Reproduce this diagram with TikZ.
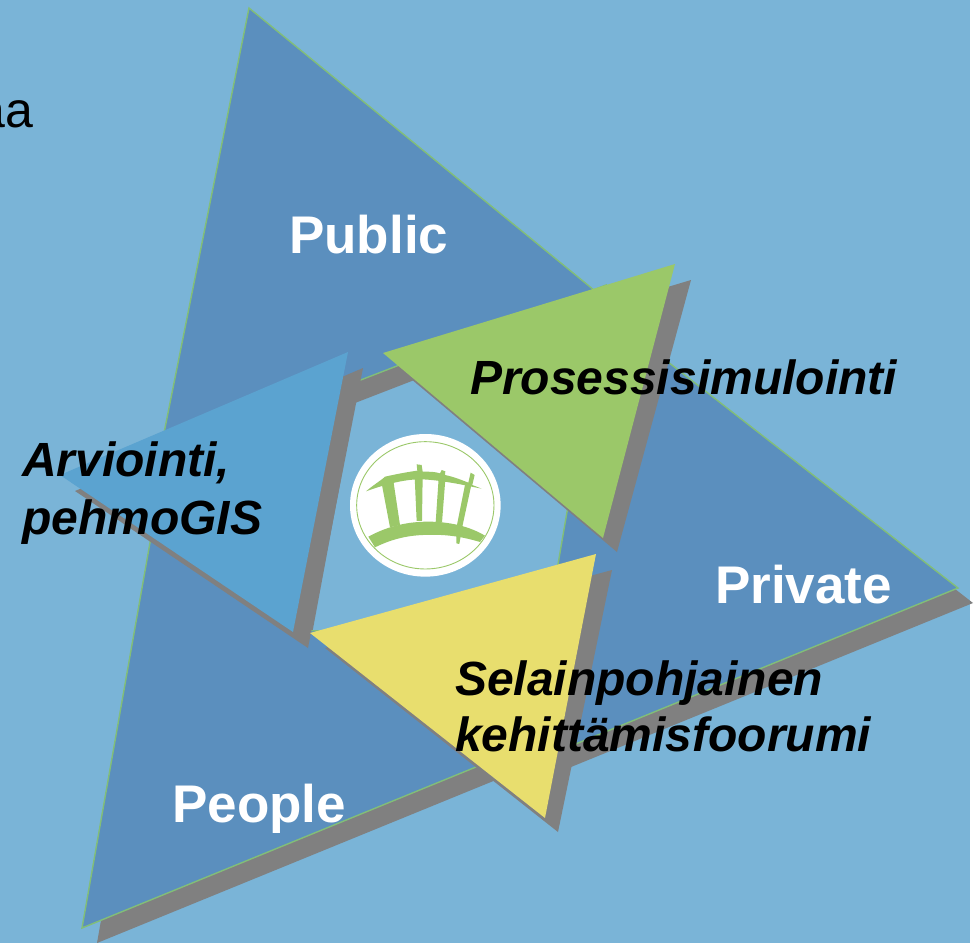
\documentclass[tikz,border=0pt]{standalone}
\usepackage{fontspec}
\setmainfont{Liberation Sans}
\definecolor{bgblue}{RGB}{122,180,215}
\definecolor{bigblue}{RGB}{91,143,190}
\definecolor{midblue}{RGB}{91,163,208}
\definecolor{leaf}{RGB}{155,200,105}
\definecolor{edgegreen}{RGB}{130,190,120}
\definecolor{sun}{RGB}{232,222,110}
\definecolor{dropgrey}{RGB}{128,128,128}
\tikzset{
  bigtext/.style={anchor=base west,inner sep=0pt,text=white,font=\fontsize{53bp}{56bp}\selectfont\bfseries},
  itext/.style={anchor=base west,inner sep=0pt,text=black,font=\fontsize{48bp}{54bp}\selectfont\bfseries\itshape},
  logoink/.style={fill=leaf,draw=none}
}
\newcommand{\bigshape}{(249,8) -- (600,295) -- (600,309) -- (958,588) -- (520,766.7) -- (520,749) -- (82,928) -- (154,520) -- (154.6,480) -- cycle
  (340,388) -- (606,285) -- (545,640) -- (295,630) -- cycle}
\begin{document}
\begin{tikzpicture}[x=1bp,y=-1bp]
\useasboundingbox (0,0) rectangle (979,943);
\fill[white] (0,0) rectangle (979,943);
\fill[bgblue] (0,0) rectangle (970,943);
\node[anchor=base west,inner sep=0pt,font=\fontsize{50bp}{54bp}\selectfont,text=black] (aa) at (-22.6,127) {aa};
% big triangle with hole
\fill[dropgrey,even odd rule,shift={(15,15)}] \bigshape;
\fill[bigblue,even odd rule,draw=edgegreen,line width=1.4bp] \bigshape;
% small triangle shadows
\fill[dropgrey] (363,368) -- (308,648) -- (75,491) -- cycle;
\fill[dropgrey] (691,280) -- (617,552) -- (398,368) -- cycle;
\fill[dropgrey] (612,570) -- (558,832) -- (325,648) -- cycle;
% small triangles
\fill[midblue] (348,352) -- (293,632) -- (60,475) -- cycle;
\fill[leaf] (675,264) -- (603,538) -- (383,353) -- cycle;
\fill[sun] (596,554) -- (545,818) -- (310,633) -- cycle;
% logo
\begin{scope}[shift={(340,420)},x=0.3333bp,y=-0.3333bp]
\fill[white] (256,256) ellipse[x radius=226,y radius=214];
\draw[leaf,line width=0.9bp] (256,256) ellipse[x radius=206,y radius=191];
\fill[logoink] (85,350) .. controls (150,315) and (210,305) .. (265,305) .. controls (330,305) and (390,320) .. (435,347) -- (420,366) .. controls (350,345) and (300,343) .. (250,345) .. controls (195,347) and (150,360) .. (105,382) -- cycle;
\fill[logoink] (78,214) .. controls (100,195) and (125,180) .. (135,170) .. controls (180,160) and (210,155) .. (232,152) -- (230,133) -- (245,135) -- (248,155) .. controls (270,155) and (285,155) .. (300,160) -- (305,150) -- (316,154) -- (315,165) .. controls (340,170) and (365,180) .. (385,188) -- (392,158) -- (404,165) -- (397,195) -- (425,206) -- (395,200) .. controls (350,190) and (280,178) .. (240,178) .. controls (190,178) and (130,195) .. cycle;
\fill[logoink] (125,190) -- (160,182) -- (180,315) -- (150,322) -- cycle;
\fill[logoink] (224,170) -- (248,170) -- (246,303) -- (230,303) -- cycle;
\fill[logoink] (296,175) -- (316,178) -- (306,308) -- (287,308) -- cycle;
\fill[logoink] (376,190) -- (394,195) -- (367,320) -- (358,372) -- (349,370) -- (350,320) -- cycle;
\end{scope}
% labels
\node[bigtext] (public) at (289,253) {Public};
\node[bigtext] (private) at (715,603) {Private};
\node[bigtext] (people) at (172,822) {People};
\node[itext] (pros) at (470,394) {Prosessisimulointi};
\node[itext] (arv) at (22,476) {Arviointi,};
\node[itext] (peh) at (22,534) {pehmoGIS};
\node[itext] (sel) at (455,695) {Selainpohjainen};
\node[itext] (keh) at (455,751) {kehittämisfoorumi};
\end{tikzpicture}
\end{document}
